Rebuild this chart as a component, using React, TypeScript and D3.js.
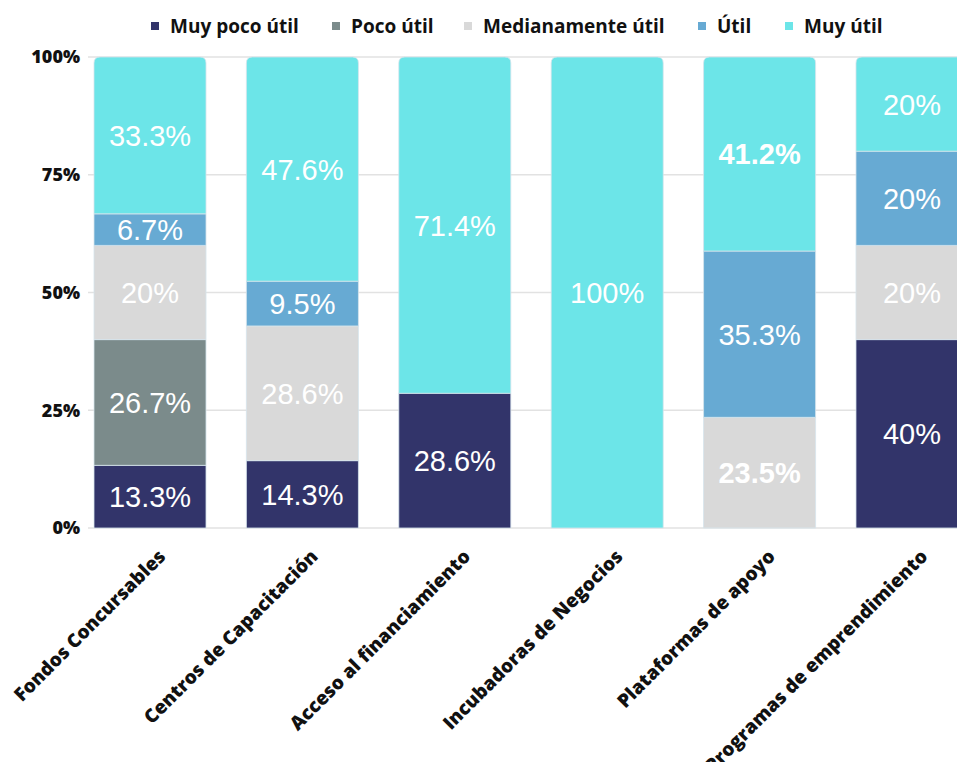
import React from "react";
import * as d3 from "d3";

const categories = [
  "Fondos Concursables",
  "Centros de Capacitación",
  "Acceso al financiamiento",
  "Incubadoras de Negocios",
  "Plataformas de apoyo",
  "Programas de emprendimiento",
];
const seriesNames = ["Muy poco útil", "Poco útil", "Medianamente útil", "Útil", "Muy útil"];
const muyPocoUtil = [13.3, 14.3, 28.6, 0, 0, 40];
const pocoUtil = [26.7, 0, 0, 0, 0, 0];
const medianamenteUtil = [20, 28.6, 0, 0, 23.5, 20];
const util = [6.7, 9.5, 0, 0, 35.3, 20];
const muyUtil = [33.3, 47.6, 71.4, 100, 41.2, 20];
const yTicks = [0, 25, 50, 75, 100];
// labels drawn in bold in the reference: [categoryIndex, seriesIndex]
const boldLabels = [
  [4, 4],
  [4, 2],
];

const colors = ["#32346A", "#7B8B8B", "#D9D9D9", "#67AAD3", "#6CE5E8"];
const W = 957;
const H = 762;

export default function App() {
  const seriesValues = [muyPocoUtil, pocoUtil, medianamenteUtil, util, muyUtil];
  const x = d3.scaleBand<string>().domain(categories).range([94, 968]).paddingInner(0.265).paddingOuter(0);
  const y = d3.scaleLinear().domain([0, 100]).range([528, 57]);

  const rows = categories.map((c, i) => {
    const r: any = { cat: c };
    seriesNames.forEach((s, j) => (r[s] = seriesValues[j][i]));
    return r;
  });
  const stacked = d3.stack<any>().keys(seriesNames)(rows);

  const legendX = [155, 336, 468, 702, 789];
  const r = 6;

  const segs: any[] = [];
  stacked.forEach((layer, j) => {
    layer.forEach((d, i) => {
      const v = seriesValues[j][i];
      if (v <= 0) return;
      const x0 = x(categories[i])!;
      const bw = x.bandwidth();
      const yTop = y(d[1]);
      const yBot = y(d[0]);
      const isTop = d[1] >= 99.9;
      let path: string;
      if (isTop) {
        path = `M${x0},${yBot} L${x0},${yTop + r} Q${x0},${yTop} ${x0 + r},${yTop} L${x0 + bw - r},${yTop} Q${x0 + bw},${yTop} ${x0 + bw},${yTop + r} L${x0 + bw},${yBot} Z`;
      } else {
        path = `M${x0},${yBot} L${x0},${yTop} L${x0 + bw},${yTop} L${x0 + bw},${yBot} Z`;
      }
      const bold = boldLabels.some((b) => b[0] === i && b[1] === j);
      segs.push({ key: `${i}-${j}`, path, color: colors[j], cx: x0 + bw / 2, cy: (yTop + yBot) / 2, label: `${v}%`, bold });
    });
  });

  return (
    <svg width={W} height={H} style={{ position: "absolute", left: 0, top: 0, background: "#fff" }}>
      {/* legend */}
      {seriesNames.map((s, j) => (
        <g key={s} transform={`translate(${legendX[j]},26)`}>
          <rect x={-4} y={-4} width={8} height={8} fill={colors[j]} />
          <text x={15} dy="0.35em" fontFamily="'Open Sans', sans-serif" fontWeight={700} fontSize={19} fill="#111">
            {s}
          </text>
        </g>
      ))}
      {/* grid */}
      {yTicks.map((t) => (
        <g key={t}>
          <line x1={88} x2={W} y1={y(t)} y2={y(t)} stroke="#e2e2e2" strokeWidth={1.5} />
          <text x={80} y={y(t)} dy="0.35em" textAnchor="end" fontFamily="'Open Sans', sans-serif" fontWeight={800} fontSize={18} fill="#111">
            {t}%
          </text>
        </g>
      ))}
      {/* bars */}
      {segs.map((s) => (
        <path key={s.key} d={s.path} fill={s.color} stroke="#d6e4ec" strokeWidth={0.8} />
      ))}
      {segs.map((s) => (
        <text
          key={"t" + s.key}
          x={s.cx}
          y={s.cy}
          dy="0.36em"
          textAnchor="middle"
          fontFamily="'Liberation Sans', Arial, sans-serif"
          fontSize={29}
          fontWeight={s.bold ? 700 : 400}
          fill="#fff"
        >
          {s.label}
        </text>
      ))}
      {/* x labels */}
      {categories.map((c) => (
        <text
          key={c}
          transform={`translate(${x(c)! + x.bandwidth() / 2 + 12},553) rotate(-45)`}
          dy="0.35em"
          textAnchor="end"
          fontFamily="'Open Sans', sans-serif"
          fontWeight={800}
          fontSize={19}
          fill="#111"
        >
          {c}
        </text>
      ))}
    </svg>
  );
}
